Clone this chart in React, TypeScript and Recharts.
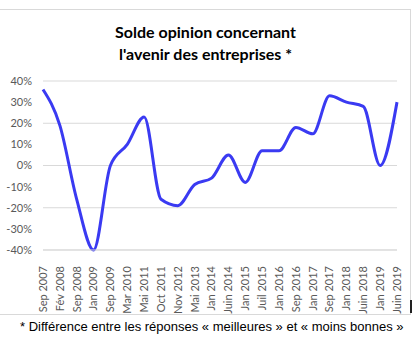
import React from 'react';
import { LineChart, Line, XAxis, YAxis, CartesianGrid } from 'recharts';

// period labels (x axis)
const periods = [
  'Sep 2007', 'Fév 2008', 'Sep 2008', 'Jan 2009', 'Sep 2009', 'Mar 2010',
  'Mai 2011', 'Oct 2011', 'Nov 2012', 'Mai 2013', 'Jan 2014', 'Juin 2014',
  'Jan 2015', 'Juil 2015', 'Jan 2016', 'Sep 2016', 'Jan 2017', 'Sep 2017',
  'Jan 2018', 'Juin 2018', 'Jan 2019', 'Juin 2019',
];

// solde d'opinion, in %
const solde = [
  36, 19, -16, -40, 0, 10,
  23, -16, -19, -9, -6, 5,
  -8, 7, 7, 18, 15, 33,
  30, 28, 0, 30,
];

const yTicks = [-40, -30, -20, -10, 0, 10, 20, 30, 40];

const data = periods.map((p, i) => ({ period: p, value: solde[i] }));

const PeriodTick = (props: any) => {
  const { x, y, payload } = props;
  return (
    <text
      x={x}
      y={y + 8}
      dy="0.35em"
      transform={`rotate(-90, ${x}, ${y + 8})`}
      textAnchor="end"
      fill="#595959"
      fontSize={11}
      fontFamily="Lato, sans-serif"
    >
      {payload.value}
    </text>
  );
};

const App: React.FC = () => {
  return (
    <div style={{ position: 'absolute', left: 0, top: 0, width: 419, height: 341, background: '#fff', overflow: 'hidden' }}>
      <div
        style={{
          position: 'absolute', left: -1, top: 9, width: 412, height: 306,
          border: '1px solid #d9d9d9', boxSizing: 'border-box',
        }}
      />
      <div style={{ position: 'absolute', left: 410, top: 300, width: 2, height: 13, background: '#222' }} />

      <div
        style={{
          position: 'absolute', left: 0, top: 21, width: 411, textAlign: 'center',
          fontFamily: 'Lato, sans-serif', fontWeight: 700, fontSize: 16, lineHeight: '22px', color: '#000',
        }}
      >
        Solde opinion concernant
        <br />
        l'avenir des entreprises *
      </div>

      <div style={{ position: 'absolute', left: 0, top: 0 }}>
        <LineChart width={419} height={341} data={data} margin={{ top: 81, right: 22, bottom: 0, left: 0 }}>
          <CartesianGrid vertical={false} stroke="#d9d9d9" strokeWidth={1} />
          <XAxis
            dataKey="period"
            interval={0}
            axisLine={{ stroke: '#d9d9d9' }}
            tickLine={false}
            tick={<PeriodTick />}
            height={91}
          />
          <YAxis
            domain={[-40, 40]}
            ticks={yTicks}
            axisLine={false}
            tickLine={false}
            width={43}
            tickMargin={5}
            tickFormatter={(v: number) => `${v}%`}
            tick={{ fill: '#595959', fontSize: 11, fontFamily: 'Lato, sans-serif' }}
          />
          <Line
            type="monotone"
            dataKey="value"
            stroke="#3a3af2"
            strokeWidth={3}
            dot={false}
            isAnimationActive={false}
          />
        </LineChart>
      </div>

      <div
        style={{
          position: 'absolute', left: 20, top: 319, whiteSpace: 'nowrap',
          fontFamily: '"Liberation Sans", Arial, sans-serif', fontSize: 13, lineHeight: '15px', color: '#000',
        }}
      >
        * Différence entre les réponses « meilleures » et « moins bonnes »
      </div>
    </div>
  );
};

export default App;
